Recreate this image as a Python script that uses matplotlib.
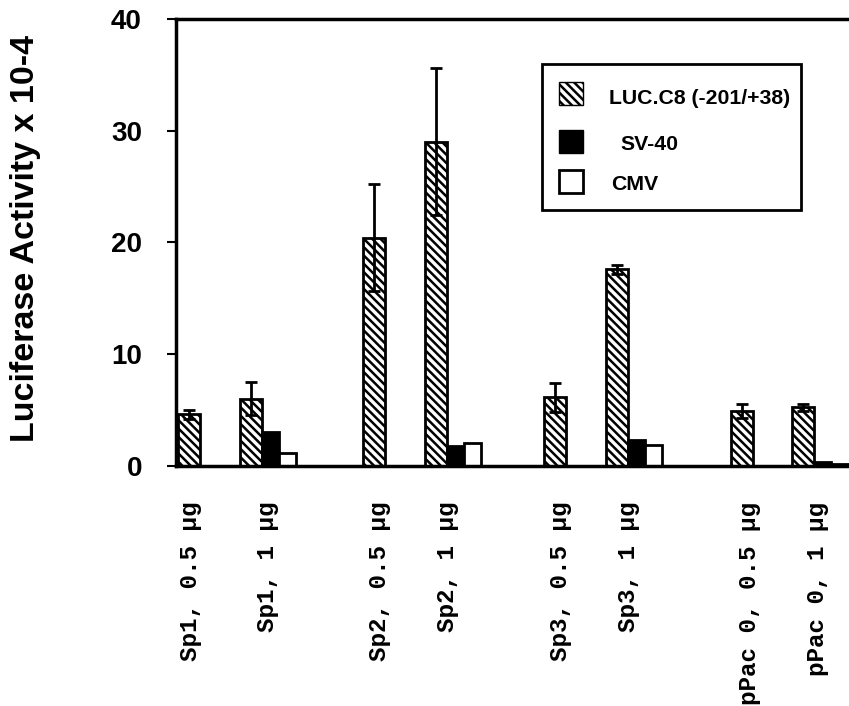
import matplotlib
matplotlib.use("Agg")
import matplotlib.pyplot as plt
from matplotlib.patches import Rectangle

# values (Luciferase activity x 10-4)
labels = ["Sp1, 0.5 \u00b5g", "Sp1, 1 \u00b5g", "Sp2, 0.5 \u00b5g", "Sp2, 1 \u00b5g",
          "Sp3, 0.5 \u00b5g", "Sp3, 1 \u00b5g", "pPac 0, 0.5 \u00b5g", "pPac 0, 1 \u00b5g"]
luc = [4.6, 6.0, 20.4, 29.0, 6.1, 17.6, 4.9, 5.2]
luc_err = [0.4, 1.5, 4.8, 6.6, 1.3, 0.4, 0.6, 0.3]
# SV-40 and CMV only measured for the 1 ug groups
sv40 = [3.0, 1.75, 2.3, 0.35]
cmv = [1.1, 2.0, 1.8, 0.15]
one_ug = [1, 3, 5, 7]
legend_names = ["LUC.C8 (-201/+38)", "SV-40", "CMV"]

# layout (units of one hatched bar width)
pos = [0, 2.82, 8.41, 11.23, 16.64, 19.45, 25.14, 27.91]
w_luc = 1.0
w_small = 0.77
tick_off = [0.05, 0.75, 0.25, 0.5, 0.25, 0.55, 0.35, 0.65]
HATCH = "\\\\\\\\"

plt.rcParams['hatch.linewidth'] = 1.8

fig = plt.figure(figsize=(8.49, 7.06), dpi=100)
ax = fig.add_axes([176 / 849, 1 - 465.5 / 706, (851 - 176) / 849, (465.5 - 19) / 706])

ax.bar(pos, luc, width=w_luc, color="white", edgecolor="black", linewidth=2,
       hatch=HATCH, yerr=luc_err, capsize=4,
       error_kw=dict(elinewidth=2, capthick=2, ecolor="black"), zorder=2)

sv_x = [pos[i] + w_luc / 2 + w_small / 2 for i in one_ug]
cmv_x = [pos[i] + w_luc / 2 + w_small * 1.5 for i in one_ug]
ax.bar(sv_x, sv40, width=w_small, color="black", edgecolor="black", linewidth=2, zorder=2)
ax.bar(cmv_x, cmv, width=w_small, color="white", edgecolor="black", linewidth=2, zorder=2)

ax.set_ylim(0, 40)
ax.set_xlim(-0.59, -0.59 + (851 - 176) / 22)
ax.set_yticks([0, 10, 20, 30, 40])
ax.tick_params(axis="y", length=6.5, width=1.5, pad=18, labelsize=20)
for t in ax.get_yticklabels():
    t.set_fontweight("bold")
    t.set_fontfamily("Liberation Sans")

ax.set_xticks([p + o for p, o in zip(pos, tick_off)])
ax.set_xticklabels(labels, rotation=90, fontsize=17.5, fontfamily="Liberation Mono",
                   fontweight="bold", va="top", ha="center")
ax.tick_params(axis="x", length=0, pad=26)

for s in ax.spines.values():
    s.set_linewidth(2.5)

fig.text(0.03, 1 - 238 / 706, "Luciferase Activity x 10-4", rotation=90,
         fontsize=24.5, fontweight="bold", fontfamily="Liberation Sans",
         ha="center", va="center")

# legend box drawn by hand, positions in pixels from the top-left corner
def px(x, y):
    return x / 849, 1 - y / 706

fig.add_artist(Rectangle(px(542, 210), (801 - 542) / 849, (210 - 64) / 706,
                         transform=fig.transFigure, facecolor="white",
                         edgecolor="black", linewidth=2, zorder=5))
sw_y = [93, 141, 181]
txt_x = [609, 620, 611]
txt_y = [99, 145, 185]
sw_style = [dict(facecolor="white", hatch=HATCH, linewidth=1),
            dict(facecolor="black", linewidth=1),
            dict(facecolor="white", linewidth=2)]
for i in range(3):
    fig.add_artist(Rectangle(px(559, sw_y[i] + 11.5), 24 / 849, 23 / 706,
                             transform=fig.transFigure, edgecolor="black",
                             zorder=6, **sw_style[i]))
    fig.text(*px(txt_x[i], txt_y[i]), legend_names[i], fontsize=15.3, fontweight="bold",
             fontfamily="Liberation Sans", ha="left", va="center", zorder=7)

fig.savefig("out.png", dpi=100)
